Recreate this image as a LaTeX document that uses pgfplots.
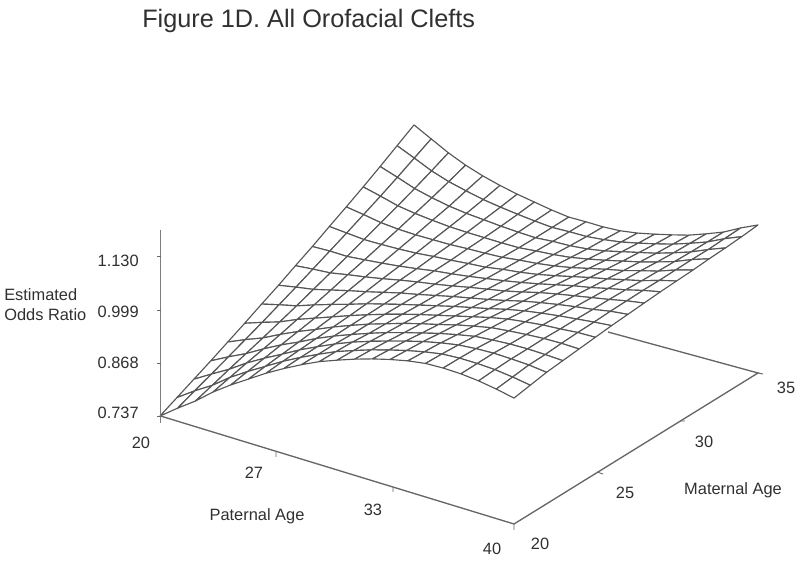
\documentclass[border=0pt]{standalone}
\usepackage{fontspec}
\setmainfont{Liberation Sans}
\usepackage{pgfplots}
\usepackage{pgfplotstable}
\pgfplotsset{compat=1.18}

\definecolor{meshgray}{HTML}{565656}
\definecolor{axisgray}{HTML}{666666}
\definecolor{textgray}{HTML}{303030}

% paternal age, maternal age, estimated odds ratio; maternal 35 first (back to front)
\pgfplotstableread[row sep=\\]{
p m z\\
20 35 1.120\\ 21 35 1.097\\ 22 35 1.074\\ 23 35 1.055\\ 24 35 1.040\\ 25 35 1.028\\ 26 35 1.018\\
27 35 1.010\\ 28 35 1.002\\ 29 35 0.996\\ 30 35 0.996\\ 31 35 0.995\\ 32 35 0.997\\ 33 35 1.003\\
34 35 1.012\\ 35 35 1.022\\ 36 35 1.033\\ 37 35 1.048\\ 38 35 1.064\\ 39 35 1.086\\ 40 35 1.105\\
20 34 1.091\\ 21 34 1.072\\ 22 34 1.052\\ 23 34 1.037\\ 24 34 1.026\\ 25 34 1.016\\ 26 34 1.009\\
27 34 1.003\\ 28 34 0.998\\ 29 34 0.994\\ 30 34 0.995\\ 31 34 0.995\\ 32 34 0.999\\ 33 34 1.005\\
34 34 1.014\\ 35 34 1.024\\ 36 34 1.035\\ 37 34 1.049\\ 38 34 1.064\\ 39 34 1.084\\ 40 34 1.101\\
20 33 1.062\\ 21 33 1.047\\ 22 33 1.031\\ 23 33 1.020\\ 24 33 1.011\\ 25 33 1.005\\ 26 33 1.001\\
27 33 0.997\\ 28 33 0.994\\ 29 33 0.992\\ 30 33 0.995\\ 31 33 0.996\\ 32 33 1.000\\ 33 33 1.007\\
34 33 1.017\\ 35 33 1.027\\ 36 33 1.037\\ 37 33 1.050\\ 38 33 1.064\\ 39 33 1.082\\ 40 33 1.098\\
20 32 1.034\\ 21 32 1.023\\ 22 32 1.011\\ 23 32 1.004\\ 24 32 0.999\\ 25 32 0.995\\ 26 32 0.993\\
27 32 0.992\\ 28 32 0.991\\ 29 32 0.991\\ 30 32 0.995\\ 31 32 0.998\\ 32 32 1.003\\ 33 32 1.011\\
34 32 1.020\\ 35 32 1.030\\ 36 32 1.040\\ 37 32 1.052\\ 38 32 1.065\\ 39 32 1.082\\ 40 32 1.096\\
20 31 1.007\\ 21 31 1.000\\ 22 31 0.992\\ 23 31 0.988\\ 24 31 0.986\\ 25 31 0.986\\ 26 31 0.986\\
27 31 0.988\\ 28 31 0.989\\ 29 31 0.991\\ 30 31 0.996\\ 31 31 1.000\\ 32 31 1.006\\ 33 31 1.014\\
34 31 1.024\\ 35 31 1.034\\ 36 31 1.043\\ 37 31 1.055\\ 38 31 1.066\\ 39 31 1.081\\ 40 31 1.093\\
20 30 0.981\\ 21 30 0.977\\ 22 30 0.973\\ 23 30 0.973\\ 24 30 0.974\\ 25 30 0.976\\ 26 30 0.980\\
27 30 0.983\\ 28 30 0.987\\ 29 30 0.990\\ 30 30 0.997\\ 31 30 1.002\\ 32 30 1.009\\ 33 30 1.018\\
34 30 1.028\\ 35 30 1.038\\ 36 30 1.047\\ 37 30 1.057\\ 38 30 1.067\\ 39 30 1.080\\ 40 30 1.091\\
20 29 0.954\\ 21 29 0.955\\ 22 29 0.954\\ 23 29 0.958\\ 24 29 0.962\\ 25 29 0.967\\ 26 29 0.973\\
27 29 0.980\\ 28 29 0.985\\ 29 29 0.991\\ 30 29 0.998\\ 31 29 1.005\\ 32 29 1.013\\ 33 29 1.022\\
34 29 1.032\\ 35 29 1.042\\ 36 29 1.050\\ 37 29 1.060\\ 38 29 1.069\\ 39 29 1.080\\ 40 29 1.089\\
20 28 0.929\\ 21 28 0.933\\ 22 28 0.936\\ 23 28 0.944\\ 24 28 0.951\\ 25 28 0.959\\ 26 28 0.968\\
27 28 0.976\\ 28 28 0.983\\ 29 28 0.991\\ 30 28 1.000\\ 31 28 1.008\\ 32 28 1.016\\ 33 28 1.026\\
34 28 1.037\\ 35 28 1.046\\ 36 28 1.054\\ 37 28 1.062\\ 38 28 1.070\\ 39 28 1.079\\ 40 28 1.086\\
20 27 0.903\\ 21 27 0.911\\ 22 27 0.918\\ 23 27 0.929\\ 24 27 0.940\\ 25 27 0.950\\ 26 27 0.961\\
27 27 0.972\\ 28 27 0.981\\ 29 27 0.991\\ 30 27 1.001\\ 31 27 1.010\\ 32 27 1.019\\ 33 27 1.029\\
34 27 1.040\\ 35 27 1.049\\ 36 27 1.057\\ 37 27 1.064\\ 38 27 1.070\\ 39 27 1.078\\ 40 27 1.083\\
20 26 0.879\\ 21 26 0.890\\ 22 26 0.900\\ 23 26 0.915\\ 24 26 0.929\\ 25 26 0.942\\ 26 26 0.956\\
27 26 0.968\\ 28 26 0.980\\ 29 26 0.991\\ 30 26 1.002\\ 31 26 1.013\\ 32 26 1.023\\ 33 26 1.033\\
34 26 1.044\\ 35 26 1.053\\ 36 26 1.060\\ 37 26 1.066\\ 38 26 1.071\\ 39 26 1.076\\ 40 26 1.080\\
20 25 0.854\\ 21 25 0.869\\ 22 25 0.883\\ 23 25 0.902\\ 24 25 0.918\\ 25 25 0.934\\ 26 25 0.950\\
27 25 0.965\\ 28 25 0.979\\ 29 25 0.992\\ 30 25 1.004\\ 31 25 1.015\\ 32 25 1.026\\ 33 25 1.037\\
34 25 1.048\\ 35 25 1.057\\ 36 25 1.063\\ 37 25 1.068\\ 38 25 1.071\\ 39 25 1.075\\ 40 25 1.076\\
20 24 0.830\\ 21 24 0.849\\ 22 24 0.866\\ 23 24 0.888\\ 24 24 0.908\\ 25 24 0.926\\ 26 24 0.945\\
27 24 0.962\\ 28 24 0.978\\ 29 24 0.992\\ 30 24 1.006\\ 31 24 1.018\\ 32 24 1.029\\ 33 24 1.041\\
34 24 1.051\\ 35 24 1.060\\ 36 24 1.065\\ 37 24 1.069\\ 38 24 1.072\\ 39 24 1.073\\ 40 24 1.072\\
20 23 0.806\\ 21 23 0.829\\ 22 23 0.850\\ 23 23 0.875\\ 24 23 0.898\\ 25 23 0.918\\ 26 23 0.940\\
27 23 0.959\\ 28 23 0.976\\ 29 23 0.992\\ 30 23 1.007\\ 31 23 1.020\\ 32 23 1.032\\ 33 23 1.044\\
34 23 1.054\\ 35 23 1.063\\ 36 23 1.067\\ 37 23 1.070\\ 38 23 1.071\\ 39 23 1.070\\ 40 23 1.068\\
20 22 0.783\\ 21 22 0.809\\ 22 22 0.834\\ 23 22 0.863\\ 24 22 0.888\\ 25 22 0.911\\ 26 22 0.935\\
27 22 0.956\\ 28 22 0.976\\ 29 22 0.994\\ 30 22 1.009\\ 31 22 1.023\\ 32 22 1.036\\ 33 22 1.048\\
34 22 1.058\\ 35 22 1.066\\ 36 22 1.070\\ 37 22 1.072\\ 38 22 1.071\\ 39 22 1.069\\ 40 22 1.064\\
20 21 0.760\\ 21 21 0.790\\ 22 21 0.817\\ 23 21 0.850\\ 24 21 0.878\\ 25 21 0.904\\ 26 21 0.930\\
27 21 0.953\\ 28 21 0.974\\ 29 21 0.994\\ 30 21 1.010\\ 31 21 1.025\\ 32 21 1.038\\ 33 21 1.050\\
34 21 1.060\\ 35 21 1.068\\ 36 21 1.071\\ 37 21 1.071\\ 38 21 1.069\\ 39 21 1.064\\ 40 21 1.057\\
20 20 0.737\\ 21 20 0.770\\ 22 20 0.801\\ 23 20 0.837\\ 24 20 0.868\\ 25 20 0.896\\ 26 20 0.924\\
27 20 0.949\\ 28 20 0.972\\ 29 20 0.993\\ 30 20 1.010\\ 31 20 1.026\\ 32 20 1.040\\ 33 20 1.052\\
34 20 1.062\\ 35 20 1.069\\ 36 20 1.071\\ 37 20 1.070\\ 38 20 1.066\\ 39 20 1.059\\ 40 20 1.050\\
}\surfdata

\begin{document}
\begin{tikzpicture}
  \begin{axis}[
      hide axis, clip=false,
      x={(13.0875pt,-3.7875pt)}, y={(12.45pt,7.2pt)}, z={(0pt,301.7pt)},
      xmin=19, xmax=41, ymin=19, ymax=36, zmin=0.7, zmax=1.2,
      colormap={whitemap}{color(0cm)=(white); color(1cm)=(white)},
    ]
    % the two expressions only bend the grid for the picture's perspective
    \addplot3[surf, shader=faceted, faceted color=meshgray, line width=0.85pt, line join=round,
              mesh/rows=16, mesh/cols=21]
      table[x expr=\thisrow{p}-0.00191*(\thisrow{p}-30)*(\thisrow{m}-27.5), y=m,
            z expr=\thisrow{z}+0.000092*(\thisrow{p}-30)*(\thisrow{m}-27.5)] {\surfdata};
    \coordinate (P0) at (axis cs:20,20,0.737);
  \end{axis}

  % everything below is in the reference's pixel coordinates
  \begin{scope}[shift={(P0)}, x=.75pt, y=-.75pt, shift={(-162.5,-419.5)},
                lab/.style={inner sep=0pt, text=textgray, font=\fontsize{12.3}{14}\selectfont}]
    \path (0,0) rectangle (800,563);
    % vertical axis
    \draw[axisgray!85, line width=1.4pt] (160.5,230) -- (160.5,423);
    \foreach \yy in {256,310,363,416} \draw[axisgray, line width=.7pt] (157,\yy) -- (160.5,\yy);
    % floor
    \draw[axisgray, line width=1pt] (160.5,416) -- (514,524) -- (758,373) -- (608,332);
    \draw[axisgray, line width=.7pt] (276,451.5) -- (276,457) (393,487) -- (393,492)
      (514,524) -- (514,530) (597,472) -- (603,474) (680,421) -- (685,421) (758,373) -- (763,374);

    \node[lab, anchor=east] at (139,261) {1.130};
    \node[lab, anchor=east] at (139,312) {0.999};
    \node[lab, anchor=east] at (139,363) {0.868};
    \node[lab, anchor=east] at (139,413) {0.737};
    \node[lab, anchor=west] at (4,295) {Estimated};
    \node[lab, anchor=west] at (4,315) {Odds Ratio};

    \node[lab] at (141,443) {20};
    \node[lab] at (254,473) {27};
    \node[lab] at (373,510) {33};
    \node[lab] at (492,549) {40};
    \node[lab] at (257,516) {Paternal Age};

    \node[lab] at (540,544) {20};
    \node[lab] at (625,493) {25};
    \node[lab] at (704,442) {30};
    \node[lab] at (786,388) {35};
    \node[lab] at (733,490) {Maternal Age};

    \node[anchor=base west, inner sep=0pt, text=textgray, font=\fontsize{18.95}{22}\selectfont]
      at (142,28) {Figure 1D. All Orofacial Clefts};
  \end{scope}
\end{tikzpicture}
\end{document}
